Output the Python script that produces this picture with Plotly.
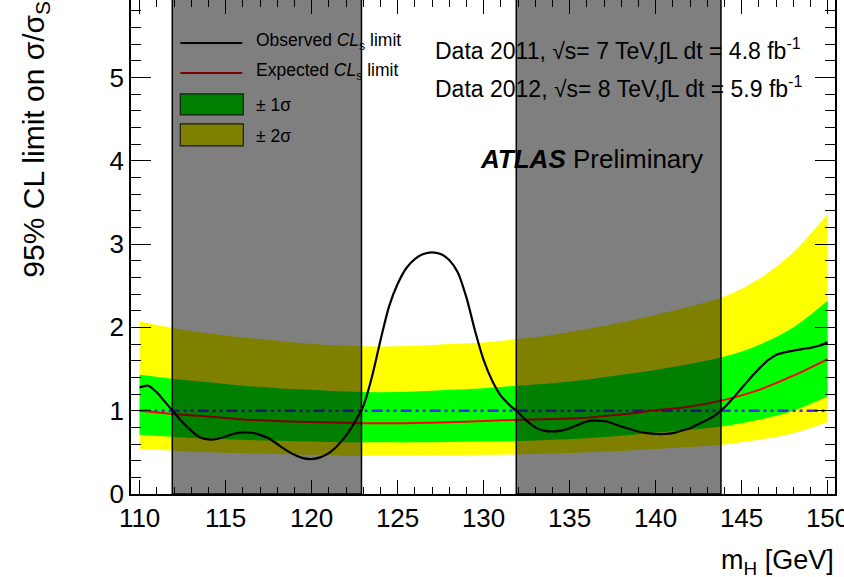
import plotly.graph_objects as go

# ---------------- data ----------------
mass = [110, 112, 114, 116, 118, 120, 122, 124, 126, 128, 130,
        132, 134, 136, 138, 140, 142, 144, 146, 148, 150]
expected = [1.00, 0.96, 0.93, 0.895, 0.875, 0.865, 0.855, 0.848, 0.852, 0.862, 0.875,
            0.89, 0.90, 0.915, 0.955, 1.005, 1.05, 1.13, 1.25, 1.42, 1.62]
band2_up = [2.07, 1.99, 1.93, 1.88, 1.84, 1.80, 1.78, 1.77, 1.78, 1.80, 1.82,
            1.86, 1.91, 1.98, 2.06, 2.15, 2.25, 2.37, 2.58, 2.90, 3.36]
band1_up = [1.43, 1.38, 1.34, 1.30, 1.27, 1.25, 1.23, 1.22, 1.23, 1.25, 1.27,
            1.30, 1.33, 1.37, 1.43, 1.49, 1.56, 1.65, 1.79, 2.00, 2.32]
band1_dn = [0.71, 0.685, 0.665, 0.65, 0.64, 0.63, 0.62, 0.62, 0.62, 0.625, 0.63,
            0.635, 0.65, 0.67, 0.70, 0.735, 0.77, 0.815, 0.89, 1.00, 1.17]
band2_dn = [0.54, 0.52, 0.50, 0.49, 0.48, 0.47, 0.46, 0.46, 0.46, 0.465, 0.47,
            0.475, 0.485, 0.50, 0.515, 0.54, 0.565, 0.595, 0.65, 0.73, 0.86]

obs_mass = [110, 110.5, 111, 111.5, 112, 112.5, 113, 113.5, 114, 114.5, 115, 115.5,
            116, 116.5, 117, 117.5, 118, 118.5, 119, 119.5, 120, 120.5, 121, 121.5,
            122, 122.5, 123, 123.5, 124, 124.5, 125, 125.5, 126, 126.5, 127, 127.5,
            128, 128.5, 129, 129.5, 130, 130.5, 131, 131.5, 132, 132.5, 133, 133.5,
            134, 134.5, 135, 135.5, 136, 136.5, 137, 137.5, 138, 138.5, 139, 139.5,
            140, 140.5, 141, 141.5, 142, 142.5, 143, 143.5, 144, 144.5, 145, 145.5,
            146, 146.5, 147, 147.5, 148, 148.5, 149, 149.5, 150]
observed = [1.28, 1.30, 1.22, 1.10, 0.98, 0.86, 0.76, 0.68, 0.655, 0.66, 0.69, 0.725,
            0.74, 0.735, 0.71, 0.67, 0.60, 0.53, 0.47, 0.43, 0.42, 0.44, 0.49, 0.58,
            0.70, 0.86, 1.05, 1.40, 1.84, 2.25, 2.52, 2.71, 2.82, 2.88, 2.90, 2.88,
            2.81, 2.66, 2.36, 1.96, 1.61, 1.36, 1.18, 1.07, 0.98, 0.88, 0.80, 0.76,
            0.75, 0.76, 0.79, 0.83, 0.87, 0.88, 0.875, 0.85, 0.81, 0.78, 0.75, 0.73,
            0.72, 0.72, 0.73, 0.76, 0.79, 0.84, 0.89, 0.95, 1.04, 1.15, 1.27, 1.39,
            1.50, 1.60, 1.67, 1.70, 1.72, 1.74, 1.755, 1.78, 1.82]

excl_lo = [111.9, 131.9]
excl_hi = [122.9, 143.8]
ref_level = 1.0

x_ticks = [110, 115, 120, 125, 130, 135, 140, 145, 150]
y_ticks = [0, 1, 2, 3, 4, 5]

# ---------------- layout geometry ----------------
W, H = 844, 577
L, R, T, B = 130.7, 834.7, 0.0, 494.3
PW, PH = R - L, B - T


def px(x):
    return (x - L) / PW


def py(y):
    return (B - y) / PH


FONT = "Liberation Sans, Arial, Helvetica, sans-serif"

fig = go.Figure()

# +-2 sigma band
fig.add_trace(go.Scatter(x=mass, y=band2_dn, mode="lines", line=dict(width=0, shape="spline"),
                         showlegend=False, hoverinfo="skip"))
fig.add_trace(go.Scatter(x=mass, y=band2_up, mode="lines", line=dict(width=0, shape="spline"),
                         fill="tonexty", fillcolor="#ffff00", showlegend=False, hoverinfo="skip"))
# +-1 sigma band
fig.add_trace(go.Scatter(x=mass, y=band1_dn, mode="lines", line=dict(width=0, shape="spline"),
                         showlegend=False, hoverinfo="skip"))
fig.add_trace(go.Scatter(x=mass, y=band1_up, mode="lines", line=dict(width=0, shape="spline"),
                         fill="tonexty", fillcolor="#00ff00", showlegend=False, hoverinfo="skip"))
# reference line at 1
fig.add_trace(go.Scatter(x=[mass[0], mass[-1]], y=[ref_level, ref_level], mode="lines",
                         line=dict(color="#4628f0", width=2.5, dash="11px,4px,3px,4px,3px,4px"),
                         showlegend=False, hoverinfo="skip"))
# expected
fig.add_trace(go.Scatter(x=mass, y=expected, mode="lines",
                         line=dict(color="#ff0000", width=2, shape="spline"),
                         showlegend=False))
# observed
fig.add_trace(go.Scatter(x=obs_mass, y=observed, mode="lines",
                         line=dict(color="#000000", width=2.2, shape="spline", smoothing=0.8),
                         showlegend=False))

shapes = []
# hand-drawn legend (drawn below the grey exclusion overlays)
shapes.append(dict(type="line", xref="paper", yref="paper", x0=px(180), x1=px(242),
                   y0=py(43), y1=py(43), line=dict(color="black", width=2), layer="above"))
shapes.append(dict(type="line", xref="paper", yref="paper", x0=px(180), x1=px(242),
                   y0=py(73), y1=py(73), line=dict(color="#ff0000", width=2), layer="above"))
shapes.append(dict(type="rect", xref="paper", yref="paper", x0=px(180), x1=px(243),
                   y0=py(115), y1=py(94), fillcolor="#00ff00",
                   line=dict(color="#333333", width=1.2), layer="above"))
shapes.append(dict(type="rect", xref="paper", yref="paper", x0=px(180), x1=px(243),
                   y0=py(146), y1=py(124), fillcolor="#ffff00",
                   line=dict(color="#333333", width=1.2), layer="above"))
# grey exclusion regions
for lo, hi in zip(excl_lo, excl_hi):
    shapes.append(dict(type="rect", xref="x", yref="paper", x0=lo, x1=hi, y0=0, y1=1.02,
                       fillcolor="rgba(0,0,0,0.5)", line=dict(color="black", width=1.5),
                       layer="above"))

annotations = []


def txt(text, x, y, size, xanchor="left", **kw):
    annotations.append(dict(text=text, x=px(x), y=py(y), xref="paper", yref="paper",
                            xanchor=xanchor, yanchor="middle", showarrow=False,
                            font=dict(family=FONT, size=size, color="black"), **kw))


txt("Observed <i>CL</i><sub>s</sub> limit", 254, 42, 17.5)
txt("Expected <i>CL</i><sub>s</sub> limit", 254, 72, 17.5)
txt("± 1σ", 254, 105, 17.5)
txt("± 2σ", 254, 136, 17.5)
txt("Data 2011, √s= 7 TeV,∫L dt = 4.8 fb<sup>-1</sup>", 433, 49, 23)
txt("Data 2012, √s= 8 TeV,∫L dt = 5.9 fb<sup>-1</sup>", 433, 87, 23)
txt("<b><i>ATLAS</i></b> Preliminary", 478, 159, 26)
txt("m<sub>H</sub> [GeV]", 836, 562, 27, xanchor="right")
annotations.append(dict(text="95% CL limit on σ/σ<sub>S</sub>", x=px(35), y=py(280),
                        xref="paper", yref="paper", xanchor="center", yanchor="bottom",
                        textangle=-90, showarrow=False,
                        font=dict(family=FONT, size=30, color="black")))

axis_common = dict(showgrid=False, zeroline=False, showline=True, linecolor="black",
                   linewidth=1.5, mirror="allticks", ticks="inside", tickcolor="black",
                   tickwidth=1.3, ticklabeloverflow="allow", automargin=False,
                   tickfont=dict(family=FONT, size=26, color="black"))

fig.update_layout(
    width=W, height=H,
    margin=dict(l=L, r=W - R, t=T, b=H - B, pad=0, autoexpand=False),
    paper_bgcolor="white", plot_bgcolor="white",
    showlegend=False,
    xaxis=dict(range=[109.5, 150.43], tickvals=x_ticks, ticklen=14,
               minor=dict(dtick=1, tick0=110, ticklen=7, ticks="inside", tickcolor="black",
                          tickwidth=1.2),
               **axis_common),
    yaxis=dict(range=[0, 5.93], tickvals=y_ticks, ticklen=20,
               minor=dict(dtick=0.2, tick0=0, ticklen=10, ticks="inside", tickcolor="black",
                          tickwidth=1.2),
               **axis_common),
    shapes=shapes,
    annotations=annotations,
)

fig.write_html("out.html")
